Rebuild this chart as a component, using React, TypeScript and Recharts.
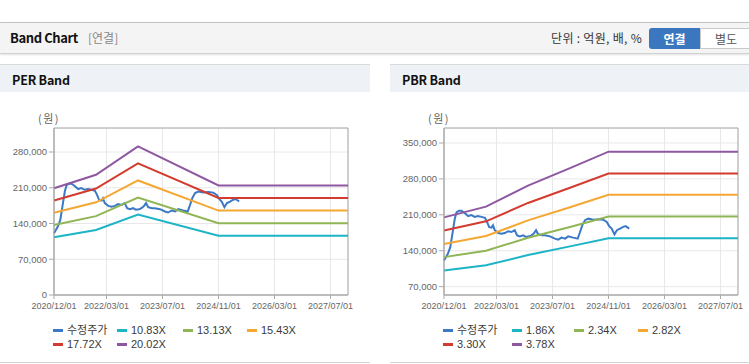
import React from 'react'
import { LineChart, Line, XAxis, YAxis, CartesianGrid, Legend, ReferenceArea } from 'recharts'

// x axis is months counted from 2020/12
const xTicks = [0, 15, 31, 47, 63, 79]
const xLabels = ['2020/12/01', '2022/03/01', '2023/07/01', '2024/11/01', '2026/03/01', '2027/07/01']

const priceMonths = [0, 1.1, 1.8, 2.4, 3.1, 3.6, 4.3, 5, 5.9, 6.9, 7.8, 8.8, 9.7, 10.7, 11.7, 12.3, 12.9, 13.6, 14, 14.5, 15.5, 16.4, 17.4, 18.3, 19.3, 20.2, 20.9, 21.7, 22.6, 23.4, 24.3, 25, 25.7, 26.3, 26.9, 28, 28.8, 30.3, 31.7, 32.6, 33.6, 34.6, 35.5, 36.9, 38.2, 38.8, 39.5, 40.3, 41.2, 42.7, 44.1, 45.5, 46.5, 47.2, 47.9, 48.7, 49.4, 50.3, 51.2, 51.9, 52.9]
const priceValues = [121000, 134000, 147000, 173000, 203000, 215000, 218000, 218000, 213500, 207500, 209500, 206000, 207500, 206000, 204000, 196000, 186000, 185000, 189500, 180000, 174500, 173000, 174500, 178000, 176500, 180000, 170000, 168000, 170000, 167000, 168000, 170000, 174000, 180000, 172000, 170000, 170000, 168000, 163500, 161500, 165500, 163500, 168000, 165500, 163500, 175000, 189500, 199500, 202500, 200500, 201500, 200500, 196000, 188000, 183000, 172000, 180000, 183000, 186500, 188000, 183000]

const perMonths = [0, 12, 24, 47, 84]
const per1083 = [113100, 127400, 157400, 116000, 116000]
const per1313 = [137100, 154400, 190800, 140700, 140700]
const per1543 = [161100, 181500, 224300, 165300, 165300]
const per1772 = [185000, 208400, 257600, 189900, 189900]
const per2002 = [209000, 235500, 291000, 214500, 214500]
const perYTicks = [0, 70000, 140000, 210000, 280000]

const pbrMonths = [0, 12, 24, 36, 47, 84]
const pbr186 = [101500, 111500, 131500, 148500, 164500, 164500]
const pbr234 = [127500, 140000, 165300, 186300, 206500, 206500]
const pbr282 = [152900, 168600, 199200, 224600, 249000, 249000]
const pbr330 = [179500, 197300, 233100, 262800, 290500, 290500]
const pbr378 = [205000, 226000, 267000, 301000, 333000, 333000]
const pbrYTicks = [70000, 140000, 210000, 280000, 350000]

const C = {
  price: '#3b79c6',
  teal: '#1db4c6',
  green: '#8fb554',
  orange: '#f5a733',
  red: '#d43b2f',
  purple: '#8e57a2',
}

const rows = (months: number[], vals: number[]) => months.map((m, i) => ({ m, v: vals[i] }))

const priceRows = rows(priceMonths, priceValues)

const perSeries = [
  { name: '수정주가', color: C.price, data: priceRows },
  { name: '10.83X', color: C.teal, data: rows(perMonths, per1083) },
  { name: '13.13X', color: C.green, data: rows(perMonths, per1313) },
  { name: '15.43X', color: C.orange, data: rows(perMonths, per1543) },
  { name: '17.72X', color: C.red, data: rows(perMonths, per1772) },
  { name: '20.02X', color: C.purple, data: rows(perMonths, per2002) },
]

const pbrSeries = [
  { name: '수정주가', color: C.price, data: priceRows },
  { name: '1.86X', color: C.teal, data: rows(pbrMonths, pbr186) },
  { name: '2.34X', color: C.green, data: rows(pbrMonths, pbr234) },
  { name: '2.82X', color: C.orange, data: rows(pbrMonths, pbr282) },
  { name: '3.30X', color: C.red, data: rows(pbrMonths, pbr330) },
  { name: '3.78X', color: C.purple, data: rows(pbrMonths, pbr378) },
]

const sans = 'Arial, "Liberation Sans", "Noto Sans CJK KR", sans-serif'
const kr = '"Noto Sans CJK KR", sans-serif'

// legend drawn in two rows of four, in series order
const makeLegend = (order: string[], cols: number[]) => (props: any) => {
  const items = [...(props.payload || [])].sort((a: any, b: any) => order.indexOf(a.value) - order.indexOf(b.value))
  return (
    <div style={{ position: 'relative', height: 40, width: 320, fontFamily: sans, fontSize: 11, color: '#3a3a3a' }}>
      {items.map((it: any, i: number) => (
        <div key={it.value} style={{ position: 'absolute', left: cols[i % 4], top: 7 + Math.floor(i / 4) * 13.5, height: 13, display: 'flex', alignItems: 'center', lineHeight: '13px', whiteSpace: 'nowrap' }}>
          <span style={{ width: 10, height: 3, background: it.color, marginRight: 4, flexShrink: 0 }} />
          <span>{it.value}</span>
        </div>
      ))}
    </div>
  )
}

type PanelProps = {
  left: number
  width: number
  title: string
  domain: [number, number]
  yTicks: number[]
  series: typeof perSeries
  legendCols: number[]
}

const BandPanel = ({ left, width, title, domain, yTicks, series, legendCols }: PanelProps) => {
  const order = series.map(s => s.name)
  return (
    <div style={{ position: 'absolute', left, top: 64, width, height: 300, background: '#fff' }}>
      <div style={{ position: 'absolute', left: 0, top: 0, width, height: 28, boxSizing: 'border-box', borderTop: '1px solid #dadada', background: '#eef1f6' }}>
        <span style={{ position: 'absolute', left: 12, top: 6, fontFamily: kr, fontWeight: 700, fontSize: 12.5, letterSpacing: -0.2, lineHeight: '18px', color: '#111' }}>{title}</span>
      </div>
      <span style={{ position: 'absolute', left: 38, top: 47, fontFamily: kr, fontSize: 11, letterSpacing: 1.5, lineHeight: '14px', color: '#666' }}>(원)</span>
      <div style={{ position: 'absolute', left: 0, top: 36 }}>
        <LineChart width={width} height={264} margin={{ top: 28, right: width - 348, left: 0, bottom: 7 }}>
          <CartesianGrid stroke="#e8e8e8" />
          <XAxis
            dataKey="m"
            type="number"
            domain={[0, 84]}
            ticks={xTicks}
            allowDuplicatedCategory={false}
            tickFormatter={(v: number) => xLabels[xTicks.indexOf(v)]}
            stroke="#aaa"
            tickSize={4}
            tickMargin={4}
            height={22}
            tick={{ fill: '#666', fontSize: 9, fontFamily: sans }}
            interval={0}
          />
          <YAxis
            type="number"
            domain={domain}
            ticks={yTicks}
            allowDataOverflow
            tickFormatter={(v: number) => v.toLocaleString('en-US')}
            stroke="#aaa"
            tickSize={5}
            width={54}
            tick={{ fill: '#666', fontSize: 9.5, fontFamily: sans }}
            interval={0}
          />
          <ReferenceArea x1={0} x2={84} y1={domain[0]} y2={domain[1]} fill="none" stroke="#aaa" strokeWidth={1} />
          {series.map(s => (
            <Line
              key={s.name}
              data={s.data}
              dataKey="v"
              name={s.name}
              type="linear"
              stroke={s.color}
              strokeWidth={2}
              dot={false}
              activeDot={false}
              isAnimationActive={false}
            />
          ))}
          <Legend verticalAlign="bottom" align="left" height={40} content={makeLegend(order, legendCols)} />
        </LineChart>
      </div>
      <div style={{ position: 'absolute', left: 0, top: 298, width, height: 1, background: '#d4d4d4' }} />
    </div>
  )
}

export default function App() {
  return (
    <div style={{ position: 'absolute', left: 0, top: 0, width: 749, height: 364, overflow: 'hidden', background: '#fff' }}>
      <div style={{ position: 'absolute', left: 0, top: 22, width: 749, height: 32, boxSizing: 'border-box', background: '#f4f4f4', borderTop: '1px solid #c2c2c2', borderBottom: '1px solid #d2d2d2', boxShadow: '0 1px 2px rgba(0,0,0,0.12)' }}>
        <span style={{ position: 'absolute', left: 10, top: 5, fontFamily: kr, fontWeight: 700, fontSize: 13, letterSpacing: -0.4, lineHeight: '20px', color: '#111' }}>Band Chart</span>
        <span style={{ position: 'absolute', left: 88, top: 6, fontFamily: kr, fontSize: 12, lineHeight: '18px', color: '#888' }}>[연결]</span>
        <span style={{ position: 'absolute', right: 107, top: 6, fontFamily: kr, fontSize: 12, letterSpacing: 0.3, lineHeight: '18px', color: '#333' }}>단위 : 억원, 배, %</span>
        <div style={{ position: 'absolute', left: 649, top: 5, width: 51, height: 21, background: '#3a77bf', borderRadius: '3px 0 0 3px', color: '#fff', fontFamily: kr, fontWeight: 700, fontSize: 12, lineHeight: '21px', textAlign: 'center' }}>연결</div>
        <div style={{ position: 'absolute', left: 700, top: 5, width: 52, height: 21, boxSizing: 'border-box', background: '#fff', border: '1px solid #c8c8c8', borderRadius: '0 3px 3px 0', color: '#555', fontFamily: kr, fontSize: 12, lineHeight: '19px', textAlign: 'center' }}>별도</div>
      </div>
      <BandPanel left={0} width={370} title="PER Band" domain={[0, 327000]} yTicks={perYTicks} series={perSeries} legendCols={[53, 117, 183, 247]} />
      <BandPanel left={390} width={359} title="PBR Band" domain={[53700, 379200]} yTicks={pbrYTicks} series={pbrSeries} legendCols={[53, 122, 184, 248]} />
    </div>
  )
}
